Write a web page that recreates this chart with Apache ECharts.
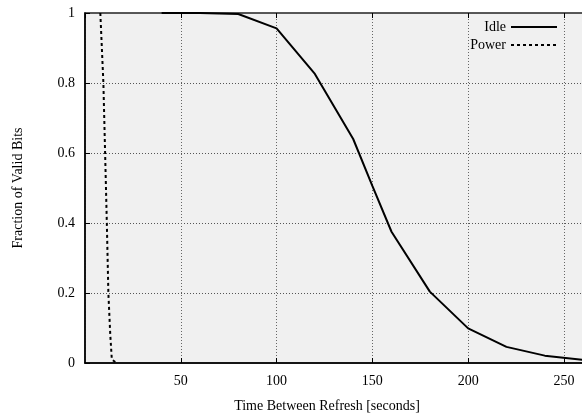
<!DOCTYPE html>
<html>
<head>
<meta charset="utf-8">
<script src="https://cdn.jsdelivr.net/npm/echarts@6/dist/echarts.min.js"></script>
<style>
  html, body { margin: 0; padding: 0; background: #fff; }
  #main { width: 582px; height: 415px; }
</style>
</head>
<body>
<div id="main"></div>
<script>
// 数据
var idleTime = [40, 60, 80, 100, 120, 140, 150, 160, 180, 200, 220, 240, 260];
var idleFrac = [1, 1, 0.997, 0.956, 0.826, 0.64, 0.506, 0.375, 0.204, 0.099, 0.046, 0.021, 0.009];
var powerTime = [8, 9.6, 10.5, 11.4, 12.2, 13.2, 14, 16.5];
var powerFrac = [1, 0.8, 0.6, 0.4, 0.2, 0.08, 0.01, 0];
var yTicks = [0, 0.2, 0.4, 0.6, 0.8, 1];

function pairs(xs, ys) {
  return xs.map(function (x, i) { return [x, ys[i]]; });
}

var font = "Liberation Serif";
var chart = echarts.init(document.getElementById('main'));
chart.setOption({
  animation: false,
  textStyle: { fontFamily: font },
  grid: {
    left: 85, right: -3, top: 13, bottom: 52,
    outerBoundsMode: 'none', containLabel: false,
    show: true, backgroundColor: '#f0f0f0',
    borderColor: '#222', borderWidth: 1.5
  },
  legend: {
    orient: 'vertical', right: 19, top: 15, align: 'right',
    itemWidth: 46, itemHeight: 10, itemGap: 4,
    itemStyle: { opacity: 0 },
    textStyle: { fontFamily: font, fontSize: 14, color: '#000' },
    data: ['Idle', 'Power']
  },
  xAxis: [{
    type: 'value', min: 0, max: 261, interval: 50,
    name: 'Time Between Refresh [seconds]', nameLocation: 'middle', nameGap: 36,
    nameTextStyle: { fontFamily: font, fontSize: 14, color: '#000', padding: [0, 16, 0, 0] },
    axisLine: { show: true, lineStyle: { color: '#000', width: 1.5 } },
    axisTick: { inside: true, length: 5, lineStyle: { color: '#000' } },
    axisLabel: {
      margin: 11, fontFamily: font, fontSize: 14, color: '#000',
      showMinLabel: false, showMaxLabel: false
    },
    splitLine: { show: true, lineStyle: { color: '#666', type: [1, 2], width: 1 } }
  }, {
    type: 'value', position: 'top', min: 0, max: 261, interval: 50,
    axisLine: { show: false },
    axisTick: { inside: true, length: 5, lineStyle: { color: '#000' } },
    axisLabel: { show: false },
    splitLine: { show: false }
  }],
  yAxis: {
    type: 'value', min: yTicks[0], max: yTicks[yTicks.length - 1], interval: 0.2,
    name: 'Fraction of Valid Bits', nameLocation: 'middle', nameGap: 60,
    nameTextStyle: { fontFamily: font, fontSize: 14, color: '#000' },
    axisLine: { show: true, lineStyle: { color: '#000', width: 1.5 } },
    axisTick: { inside: true, length: 5, lineStyle: { color: '#000' } },
    axisLabel: { margin: 10, fontFamily: font, fontSize: 14, color: '#000' },
    splitLine: { show: true, lineStyle: { color: '#555', type: [1, 2], width: 1 } }
  },
  series: [{
    name: 'Idle', type: 'line', symbol: 'none', xAxisIndex: 0,
    data: pairs(idleTime, idleFrac),
    lineStyle: { color: '#000', width: 2 },
    itemStyle: { color: '#000' }
  }, {
    name: 'Power', type: 'line', symbol: 'none', xAxisIndex: 0,
    data: pairs(powerTime, powerFrac),
    lineStyle: { color: '#000', width: 2, type: [3, 3] },
    itemStyle: { color: '#000' }
  }]
});
</script>
</body>
</html>
